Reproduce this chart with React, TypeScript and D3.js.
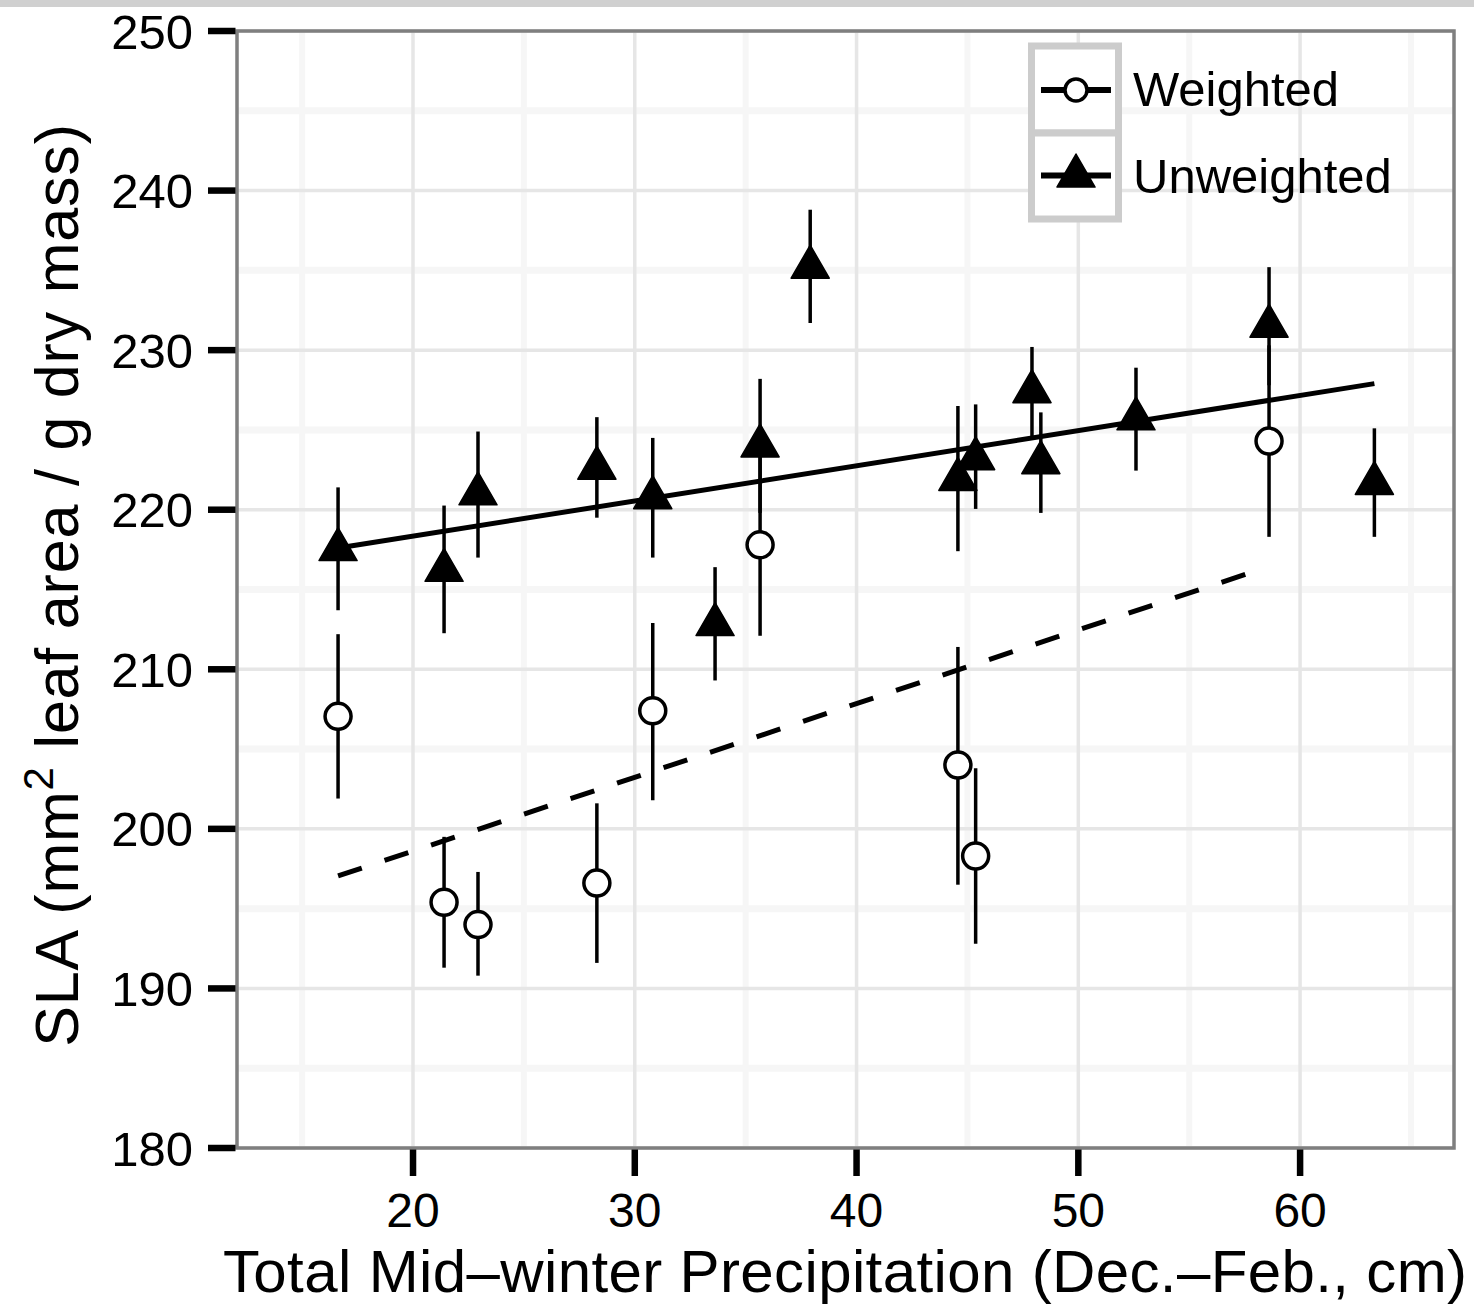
import React from "react";
import * as d3 from "d3";

// Unweighted (filled triangles): x, mean, lower, upper
const unwX = [16.62, 21.4, 22.93, 28.29, 30.81, 33.62, 35.65, 37.91, 44.57, 45.37, 47.91, 48.31, 52.6, 58.6, 63.35];
const unwY = [217.5, 216.2, 221.0, 222.6, 220.75, 212.8, 224.0, 235.2, 221.9, 223.2, 227.4, 222.95, 225.7, 231.5, 221.65];
const unwLo = [213.7, 212.26, 217.0, 219.5, 217.0, 209.3, 219.8, 231.7, 217.4, 220.05, 224.6, 219.8, 222.45, 227.8, 218.3];
const unwHi = [221.4, 220.26, 224.9, 225.8, 224.5, 216.4, 228.2, 238.8, 226.5, 226.6, 230.2, 226.1, 228.9, 235.2, 225.1];

// Weighted (open circles)
const wX = [16.62, 21.4, 22.93, 28.29, 30.81, 35.65, 44.57, 45.37, 58.6];
const wY = [207.05, 195.4, 194.0, 196.6, 207.4, 217.8, 204.0, 198.3, 224.3];
const wLo = [201.9, 191.3, 190.8, 191.6, 201.8, 212.1, 196.5, 192.8, 218.3];
const wHi = [212.2, 199.5, 197.3, 201.6, 212.9, 223.5, 211.4, 203.8, 230.3];

// Fitted lines (endpoints)
const unwFitX = [16.62, 63.35];
const unwFitY = [217.6, 227.9];
const wFitX = [16.62, 57.75];
const wFitY = [197.05, 216.05];

const xTicks = [20, 30, 40, 50, 60];
const xMinor = [15, 25, 35, 45, 55, 65];
const yTicks = [180, 190, 200, 210, 220, 230, 240, 250];
const yMinor = [185, 195, 205, 215, 225, 235, 245];

const legendLabels = ["Weighted", "Unweighted"];

const FONT = "'Liberation Sans', Arial, Helvetica, sans-serif";

export default function App() {
  const left = 237, right = 1454, top = 31, bottom = 1148;
  const x = d3.scaleLinear().domain([12.063, 66.94]).range([left, right]);
  const y = d3.scaleLinear().domain([180, 250]).range([bottom, top]);

  const triPath = (cx: number, cy: number) => {
    const r = 22;
    const h = r * Math.sqrt(3) / 2;
    return `M${cx},${cy - r}L${cx + h},${cy + r / 2}L${cx - h},${cy + r / 2}Z`;
  };

  const lineGen = d3.line<[number, number]>().x((d) => x(d[0])).y((d) => y(d[1]));

  return (
    <svg width={1474} height={1309} style={{ position: "absolute", left: 0, top: 0, background: "#fff" }} fontFamily={FONT}>
      <rect x={0} y={0} width={1474} height={1309} fill="#fff" />
      <rect x={0} y={0} width={1474} height={7} fill="#d0d0d0" />
      {/* panel */}
      <rect x={left} y={top} width={right - left} height={bottom - top} fill="#fff" />
      {yMinor.map((v) => (
        <line key={"ym" + v} x1={left} x2={right} y1={y(v)} y2={y(v)} stroke="#f6f6f6" strokeWidth={7} />
      ))}
      {xMinor.map((v) => (
        <line key={"xm" + v} y1={top} y2={bottom} x1={x(v)} x2={x(v)} stroke="#f6f6f6" strokeWidth={6} />
      ))}
      {yTicks.map((v) => (
        <line key={"yg" + v} x1={left} x2={right} y1={y(v)} y2={y(v)} stroke="#e6e6e6" strokeWidth={3.5} />
      ))}
      {xTicks.map((v) => (
        <line key={"xg" + v} y1={top} y2={bottom} x1={x(v)} x2={x(v)} stroke="#e6e6e6" strokeWidth={3.5} />
      ))}

      {/* fitted lines */}
      <path d={lineGen(unwFitX.map((v, i) => [v, unwFitY[i]]) as any) || ""} stroke="#000" strokeWidth={5} fill="none" />
      <path d={lineGen(wFitX.map((v, i) => [v, wFitY[i]]) as any) || ""} stroke="#000" strokeWidth={5} fill="none" strokeDasharray="25 24" />

      {/* error bars */}
      {unwX.map((v, i) => (
        <line key={"ue" + i} x1={x(v)} x2={x(v)} y1={y(unwLo[i])} y2={y(unwHi[i])} stroke="#000" strokeWidth={3.5} />
      ))}
      {wX.map((v, i) => (
        <line key={"we" + i} x1={x(v)} x2={x(v)} y1={y(wLo[i])} y2={y(wHi[i])} stroke="#000" strokeWidth={3.5} />
      ))}

      {/* points */}
      {wX.map((v, i) => (
        <circle key={"wp" + i} cx={x(v)} cy={y(wY[i])} r={13} fill="#fff" stroke="#000" strokeWidth={3.5} />
      ))}
      {unwX.map((v, i) => (
        <path key={"up" + i} d={triPath(x(v), y(unwY[i]))} fill="#000" stroke="#000" strokeWidth={1.5} strokeLinejoin="round" />
      ))}

      {/* panel border */}
      <rect x={left} y={top} width={right - left} height={bottom - top} fill="none" stroke="#7f7f7f" strokeWidth={3.5} />

      {/* y axis ticks & labels */}
      {yTicks.map((v) => (
        <g key={"yt" + v}>
          <line x1={208} x2={left - 1.5} y1={y(v)} y2={y(v)} stroke="#000" strokeWidth={6.5} />
          <text x={193} y={y(v) + 17.5} fontSize={49} textAnchor="end" fill="#000">{v}</text>
        </g>
      ))}
      {/* x axis ticks & labels */}
      {xTicks.map((v) => (
        <g key={"xt" + v}>
          <line y1={bottom + 1.5} y2={1176} x1={x(v)} x2={x(v)} stroke="#000" strokeWidth={6.5} />
          <text x={x(v)} y={1227} fontSize={48} textAnchor="middle" fill="#000">{v}</text>
        </g>
      ))}

      {/* axis titles */}
      <text x={845} y={1292} fontSize={60} textAnchor="middle" fill="#000" textLength={1244} lengthAdjust="spacing">
        Total Mid–winter Precipitation (Dec.–Feb., cm)
      </text>
      <text transform="translate(78,585) rotate(-90)" fontSize={61} textAnchor="middle" fill="#000" letterSpacing={0.8}>
        SLA (mm<tspan fontSize={42} dy={-25}>2</tspan><tspan dy={25}> leaf area / g dry mass)</tspan>
      </text>

      {/* legend */}
      <g>
        <rect x={1031.5} y={46} width={87} height={87} fill="#fff" stroke="#cccccc" strokeWidth={7} />
        <rect x={1031.5} y={133} width={87} height={86} fill="#fff" stroke="#cccccc" strokeWidth={7} />
        <line x1={1041} x2={1111} y1={90} y2={90} stroke="#000" strokeWidth={6} />
        <circle cx={1076} cy={90} r={11} fill="#fff" stroke="#000" strokeWidth={3.5} />
        <line x1={1041} x2={1111} y1={175.5} y2={175.5} stroke="#000" strokeWidth={6} />
        <path d={triPath(1076, 176)} fill="#000" stroke="#000" strokeWidth={1.5} strokeLinejoin="round" />
        <text x={1133} y={106} fontSize={49} fill="#000">{legendLabels[0]}</text>
        <text x={1133} y={193} fontSize={49} fill="#000">{legendLabels[1]}</text>
      </g>
    </svg>
  );
}
